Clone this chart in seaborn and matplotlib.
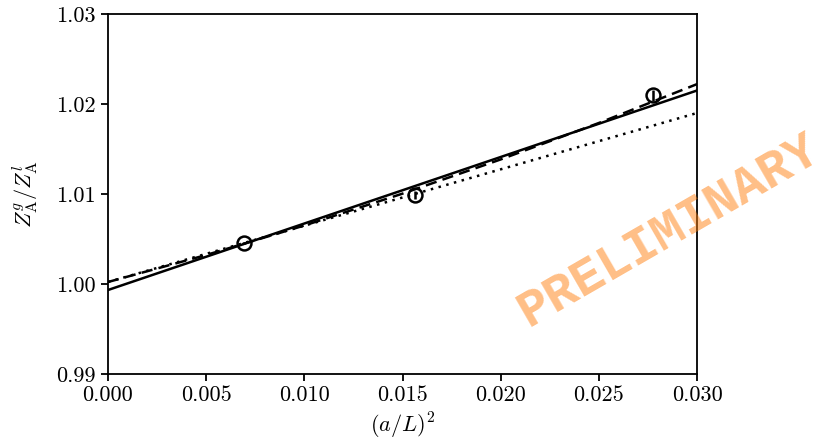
import numpy as np
import pandas as pd
import matplotlib
matplotlib.use("Agg")
import matplotlib.pyplot as plt
import seaborn as sns

# data points
x_pts = [0.00693, 0.01564, 0.02776]
y_pts = [1.00456, 1.00990, 1.02095]
y_err = [0.00010, 0.00045, 0.00065]

# solid fit (straight line endpoints)
solid_x = [0.0, 0.03]
solid_y = [0.99933, 1.02150]
# dotted fit (straight line endpoints)
dotted_x = [0.0, 0.03]
dotted_y = [1.00022, 1.01900]
# dashed fit (slightly curved)
dashed_x = [0.0, 0.005, 0.010, 0.015, 0.020, 0.025, 0.030]
dashed_y = [1.00022, 1.00322, 1.00650, 1.01004, 1.01384, 1.01789, 1.02221]

xticks = [0.000, 0.005, 0.010, 0.015, 0.020, 0.025, 0.030]
yticks = [0.99, 1.00, 1.01, 1.02, 1.03]

sns.set_theme(style="ticks")
plt.rcParams.update({
    "font.family": ["serif"],
    "font.serif": ["cmr10", "DejaVu Serif"],
    "mathtext.fontset": "cm",
    "axes.formatter.use_mathtext": True,
    "axes.edgecolor": "black",
    "axes.linewidth": 1.3,
    "xtick.color": "black",
    "ytick.color": "black",
    "xtick.major.width": 1.3,
    "ytick.major.width": 1.3,
    "xtick.major.size": 5,
    "ytick.major.size": 5,
    "text.color": "black",
    "axes.labelcolor": "black",
})

fig = plt.figure(figsize=(8.36, 4.48), dpi=100)
ax = fig.add_axes([0.129, 0.165, 0.705, 0.804])

sns.lineplot(x=solid_x, y=solid_y, ax=ax, color="black", lw=1.8, linestyle="-")
sns.lineplot(x=dashed_x, y=dashed_y, ax=ax, color="black", lw=1.8, linestyle=(0, (4.5, 2.5)))
sns.lineplot(x=dotted_x, y=dotted_y, ax=ax, color="black", lw=1.8, linestyle=(0, (1, 2.2)))

ax.errorbar(x_pts, y_pts, yerr=y_err, fmt="o", mfc="none", mec="black",
            ecolor="black", ms=10, mew=1.8, elinewidth=1.8, capsize=0, zorder=5)

ax.set_xlim(0.0, 0.03)
ax.set_ylim(0.99, 1.03)
ax.set_xticks(xticks)
ax.set_yticks(yticks)
ax.set_xticklabels([f"{v:.3f}" for v in xticks])
ax.set_yticklabels([f"{v:.2f}" for v in yticks])
ax.tick_params(labelsize=16)
ax.set_xlabel(r"$(a/L)^2$", fontsize=16, labelpad=4)
ax.set_ylabel(r"$Z_\mathrm{A}^g/Z_\mathrm{A}^l$", fontsize=16, labelpad=12)

fig.text(0.80, 0.486, "PRELIMINARY", fontsize=37, fontweight="bold",
         family=["Liberation Mono", "DejaVu Sans Mono"], color="tab:orange",
         alpha=0.5, rotation=30, ha="center", va="center", zorder=10)

fig.savefig("out.png", dpi=100)
